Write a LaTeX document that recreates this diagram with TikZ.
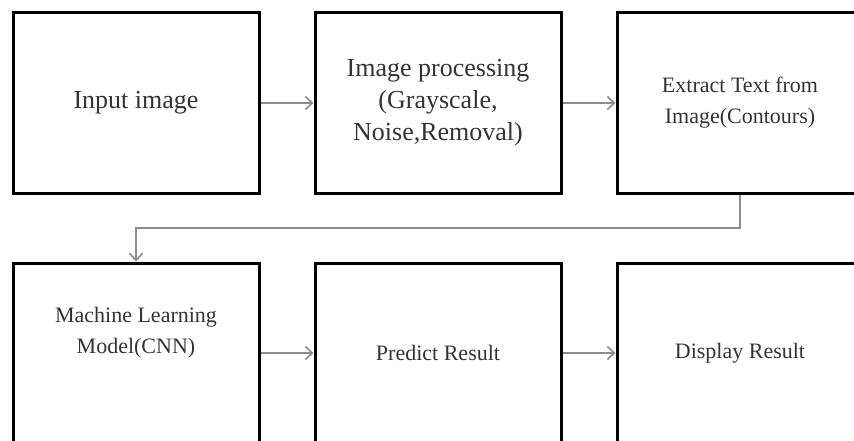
\documentclass[tikz,border=0pt]{standalone}
\usepackage{fontspec}
\setmainfont{Liberation Serif}
\usepackage{tikz}
\usetikzlibrary{arrows.meta, positioning}

\begin{document}
\begin{tikzpicture}[
    x=1pt, y=-1pt,
    node distance=67pt and 53pt,
    block/.style={
        rectangle,
        minimum width=246pt,
        minimum height=180pt,
        align=center,
        text=black!80,
        line width=3pt,
        draw=black
    },
    bigtext/.style={font=\fontsize{26}{32}\selectfont},
    smalltext/.style={font=\fontsize{22}{31}\selectfont},
    arrow/.style={line width=1.6pt, draw=black!45, -{Straight Barb[length=7pt,width=13pt]}}
]

\path[use as bounding box, clip] (0,0) rectangle (854,441);

\node (input) [block, bigtext] at (136,103) {Input image};

\node (process) [block, bigtext, right=of input]    {Image processing\\(Grayscale,\\Noise,Removal)};
\node (extract) [block, smalltext, right=of process] {Extract Text from\\Image(Contours)};

\node (model)   [block, below=of input] {};
\node (modeltext) [smalltext, text=black!80, align=center] at ([yshift=20pt]model.center) {Machine Learning\\Model(CNN)};
\node (predict) [block, smalltext, right=of model]   {Predict Result};
\node (display) [block, smalltext, right=of predict] {Display Result};

\coordinate (turn) at (0,228);

\draw [arrow] (input) -- (process);
\draw [arrow] (process) -- (extract);
\draw [arrow] (extract.south) |- (turn -| model.north) -- (model.north);
\draw [arrow] (model) -- (predict);
\draw [arrow] (predict) -- (display);

\end{tikzpicture}
\end{document}
